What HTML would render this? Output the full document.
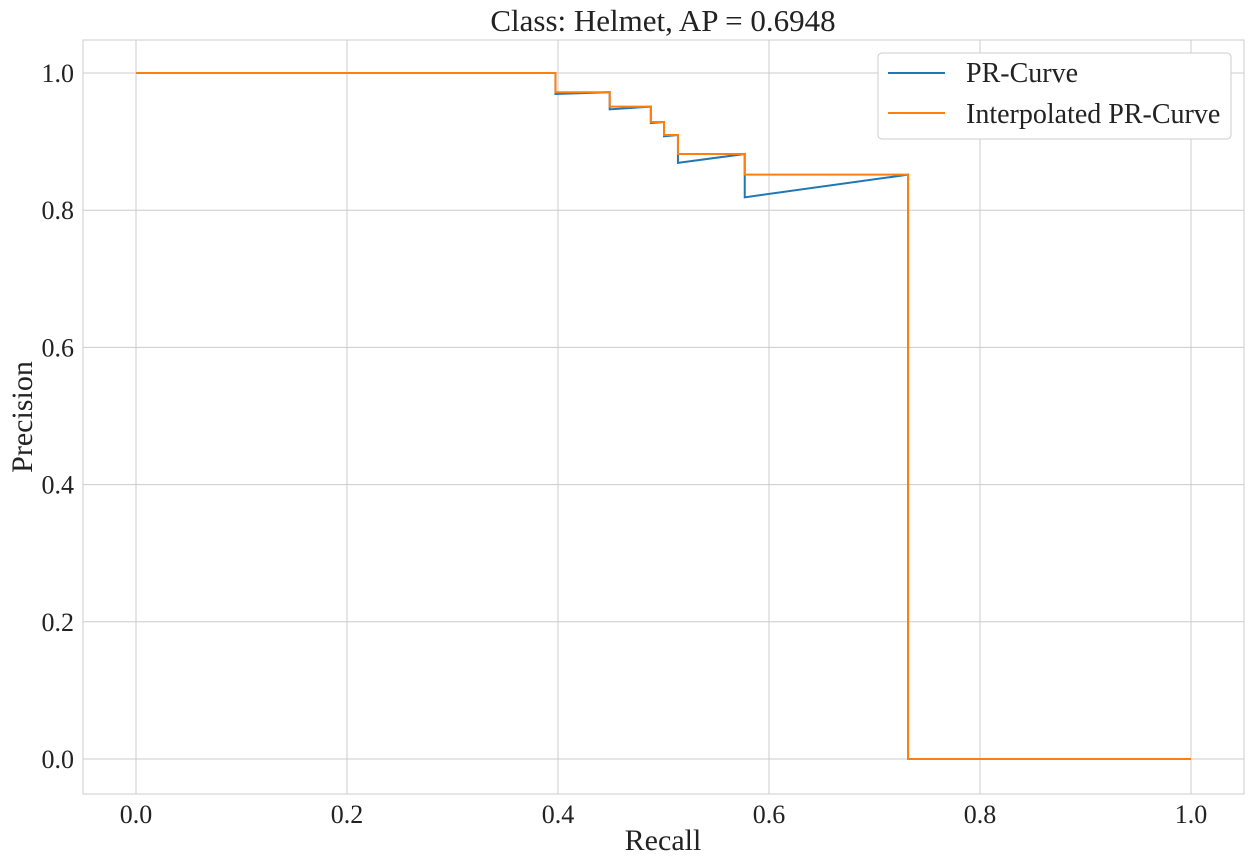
<!DOCTYPE html>
<html><head><meta charset="utf-8">
<style>
body{margin:0;background:#fff;}
svg{display:block;font-family:"Liberation Serif","DejaVu Serif",serif;}
</style></head>
<body>
<svg id="chart" width="1255" height="867">
<rect x="0" y="0" width="1255" height="867" fill="#fff"/>
<g id="grid"></g>
<g id="ticks"></g>
<rect x="83" y="40" width="1161" height="754" fill="none" stroke="#cccccc" stroke-width="1"/>
<g id="series"></g>
<text x="663" y="31" text-anchor="middle" font-size="31" fill="#222">Class: Helmet, AP = 0.6948</text>
<text x="663" y="850" text-anchor="middle" font-size="30" fill="#222">Recall</text>
<text transform="translate(32,417) rotate(-90)" text-anchor="middle" font-size="30" fill="#222">Precision</text>
<g>
<rect x="878" y="53" width="353" height="86" rx="4" fill="#fff" stroke="#cccccc"/>
<line x1="888" y1="73" x2="945" y2="73" stroke="#1f77b4" stroke-width="2"/>
<text x="966" y="82" font-size="28" fill="#222">PR-Curve</text>
<line x1="888" y1="113" x2="945" y2="113" stroke="#ff7f0e" stroke-width="2"/>
<text x="966" y="123" font-size="28" fill="#222">Interpolated PR-Curve</text>
</g>
</svg>
<script>
const xTicks=[0,0.2,0.4,0.6,0.8,1.0];
const yTicks=[0,0.2,0.4,0.6,0.8,1.0];
const prRecall=[0,0.3976,0.3976,0.449,0.449,0.488,0.488,0.5005,0.5005,0.5137,0.5137,0.577,0.577,0.7318,0.7318,1.0];
const prPrecision=[1,1,0.9694,0.972,0.947,0.951,0.927,0.9286,0.9077,0.9096,0.869,0.882,0.8188,0.8518,0,0];
const interpRecall=[0,0.3976,0.3976,0.449,0.449,0.488,0.488,0.5005,0.5005,0.5137,0.5137,0.577,0.577,0.7318,0.7318,1.0];
const interpPrecision=[1,1,0.972,0.972,0.951,0.951,0.9286,0.9286,0.9096,0.9096,0.882,0.882,0.8518,0.8518,0,0];
const NS='http://www.w3.org/2000/svg';
const sx=v=>136+v*1055;
const sy=v=>759-v*686;
const grid=document.getElementById('grid'),ticks=document.getElementById('ticks'),series=document.getElementById('series');
function mk(t,a,p){const e=document.createElementNS(NS,t);for(const k in a)e.setAttribute(k,a[k]);p.appendChild(e);return e;}
xTicks.forEach(v=>{
 const l=mk('line',{x1:sx(v),x2:sx(v),y1:40,y2:794,stroke:'#cccccc','stroke-width':1},grid);
 
 
 const t=mk('text',{x:sx(v),y:823,'text-anchor':'middle','font-size':26,fill:'#222'},ticks);
 t.textContent=v.toFixed(1);
 
 
});
yTicks.forEach(v=>{
 const l=mk('line',{x1:83,x2:1244,y1:sy(v),y2:sy(v),stroke:'#cccccc','stroke-width':1},grid);
 
 
 const t=mk('text',{x:74,y:sy(v)+9,'text-anchor':'end','font-size':26,fill:'#222'},ticks);
 t.textContent=v.toFixed(1);
 
 
});
function pts(xs,ys){return xs.map((x,i)=>sx(x)+','+sy(ys[i])).join(' ');}
const p1=mk('polyline',{points:pts(prRecall,prPrecision),fill:'none',stroke:'#1f77b4','stroke-width':2},series);


const p2=mk('polyline',{points:pts(interpRecall,interpPrecision),fill:'none',stroke:'#ff7f0e','stroke-width':2},series);


</script>
</body></html>
